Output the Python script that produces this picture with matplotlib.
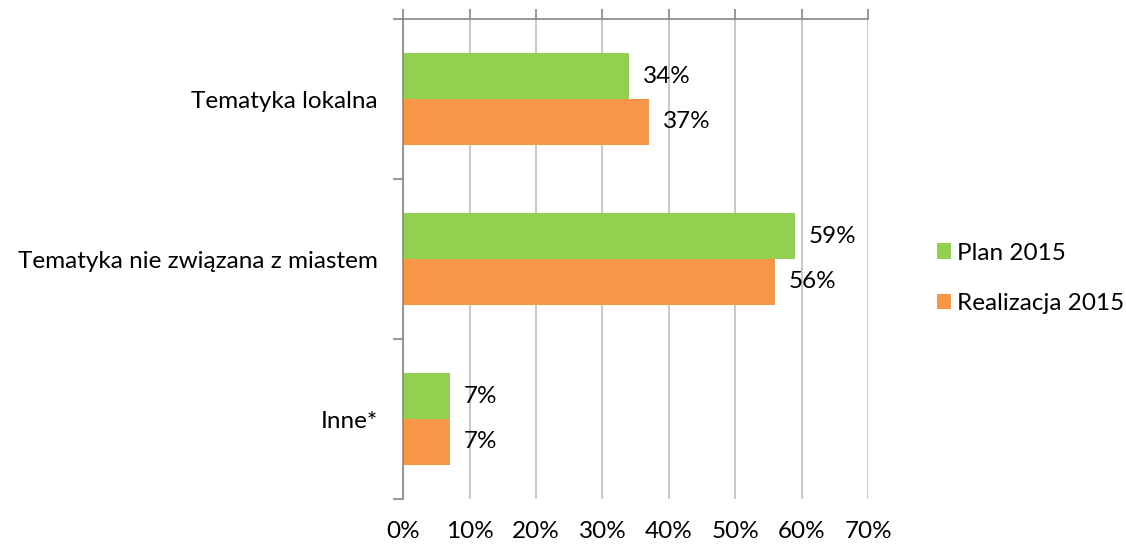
import matplotlib.pyplot as plt
import numpy as np

plt.rcParams["font.family"] = ["Lato", "DejaVu Sans"]

categories = ["Tematyka lokalna", "Tematyka nie związana z miastem", "Inne*"]
plan_2015 = [34, 59, 7]
realizacja_2015 = [37, 56, 7]
series_names = ["Plan 2015", "Realizacja 2015"]
x_ticks = [0, 10, 20, 30, 40, 50, 60, 70]

GREEN = "#92D050"
ORANGE = "#F79646"
GRID = "#BFBFBF"
AXIS = "#868686"
FS = 17.5

fig = plt.figure(figsize=(11.26, 5.45), dpi=100)
ax = fig.add_axes([0.358, 0.0844, 0.413, 0.8806])

y = np.arange(len(categories))
h = 0.285
ax.barh(y - h / 2, plan_2015, height=h, color=GREEN, label=series_names[0])
ax.barh(y + h / 2, realizacja_2015, height=h, color=ORANGE, label=series_names[1])

for yi, v in zip(y, plan_2015):
    ax.text(v + 2.1, yi - h / 2, f"{v}%", va="center", ha="left", fontsize=FS)
for yi, v in zip(y, realizacja_2015):
    ax.text(v + 2.1, yi + h / 2, f"{v}%", va="center", ha="left", fontsize=FS)

ax.set_xlim(0, 70)
ax.set_ylim(len(categories) - 0.5, -0.5)
ax.set_xticks(x_ticks)
ax.set_xticklabels([f"{t}%" for t in x_ticks], fontsize=FS)
ax.xaxis.grid(True, color=GRID, linewidth=1.2)
ax.set_axisbelow(True)

# category axis: labels at centers, ticks on boundaries
ax.set_yticks(y)
ax.set_yticklabels(categories, fontsize=FS)
ax.set_yticks(np.arange(len(categories) + 1) - 0.5, minor=True)
ax.tick_params(axis="y", which="major", length=0, pad=18)
ax.tick_params(axis="y", which="minor", length=7, color=AXIS, width=1.2)

ax.tick_params(axis="x", top=True, bottom=False, labeltop=False, labelbottom=True,
               length=7, color=AXIS, width=1.2, pad=9)

for s in ["right", "bottom"]:
    ax.spines[s].set_visible(False)
for s in ["left", "top"]:
    ax.spines[s].set_color(AXIS)
    ax.spines[s].set_linewidth(1.2)

ax.legend(loc="center left", bbox_to_anchor=(1.1, 0.46), frameon=False,
          fontsize=FS, handlelength=0.6, handleheight=0.6, labelspacing=1.2,
          handletextpad=0.25)

fig.savefig("out.png", dpi=100)
